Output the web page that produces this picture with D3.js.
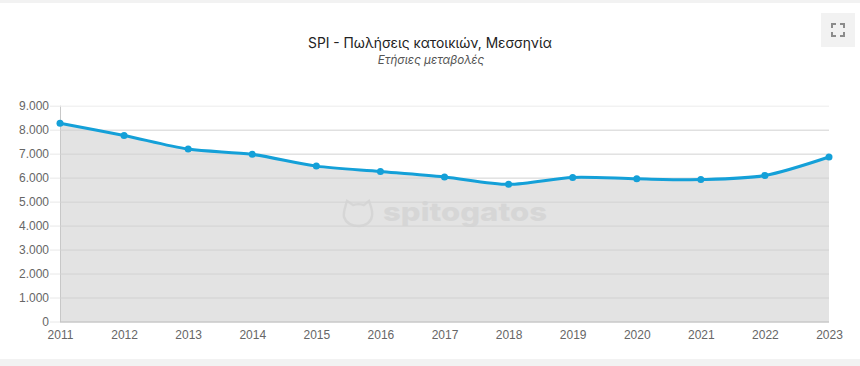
<!DOCTYPE html>
<html>
<head>
<meta charset="utf-8">
<script src="https://cdn.jsdelivr.net/npm/d3@7/dist/d3.min.js"></script>
<style>
html, body { margin: 0; padding: 0; background: #fff; }
svg { display: block; }
</style>
</head>
<body>
<svg id="chart" width="860" height="366"></svg>
<script>
var years = [2011, 2012, 2013, 2014, 2015, 2016, 2017, 2018, 2019, 2020, 2021, 2022, 2023];
var values = [8270, 7760, 7190, 6970, 6480, 6260, 6030, 5720, 6010, 5950, 5920, 6090, 6860];
var yTicks = [0, 1000, 2000, 3000, 4000, 5000, 6000, 7000, 8000, 9000];
var titleText = "SPI - Πωλήσεις κατοικιών, Μεσσηνία";
var subtitleText = "Ετήσιες μεταβολές";

var svg = d3.select("#chart");
var margin = {top: 105.7, right: 31, bottom: 44.5, left: 60};
var width = 860 - margin.left - margin.right,
    height = 366 - margin.top - margin.bottom;

var x = d3.scalePoint().domain(years).range([0, width]);
var y = d3.scaleLinear().domain([0, 9000]).range([height, 0]);

// page bands above and below the card
svg.append("rect").attr("width", 860).attr("height", 3).attr("fill", "#f2f2f2");
svg.append("rect").attr("y", 359).attr("width", 860).attr("height", 7).attr("fill", "#f2f2f2");

svg.append("text")
    .attr("x", 430).attr("y", 48)
    .attr("text-anchor", "middle")
    .attr("font-family", "Inter, 'Noto Sans', sans-serif")
    .attr("font-size", 13.8)
    .attr("fill", "#222")
    .text(titleText);

svg.append("text")
    .attr("x", 431).attr("y", 64)
    .attr("text-anchor", "middle")
    .attr("font-family", "Inter, 'Noto Sans', sans-serif")
    .attr("font-style", "italic")
    .attr("font-size", 11.7)
    .attr("fill", "#555")
    .text(subtitleText);

// fullscreen button
var btn = svg.append("g").attr("transform", "translate(821,13)");
btn.append("rect").attr("width", 34).attr("height", 34).attr("fill", "#f2f2f2");
btn.append("path")
    .attr("d", "M11 15V11H15M19 11H23V15M23 19V23H19M15 23H11V19")
    .attr("fill", "none")
    .attr("stroke", "#8c8c8c")
    .attr("stroke-width", 2);

var container = svg.append("g")
    .attr("transform", "translate(" + margin.left + "," + margin.top + ")");

var curve = d3.curveCardinal.tension(0.15);

var area = d3.area()
    .x(function(d, i) { return x(years[i]); })
    .y0(height)
    .y1(function(d) { return y(d); })
    .curve(curve);

var line = d3.line()
    .x(function(d, i) { return x(years[i]); })
    .y(function(d) { return y(d); })
    .curve(curve);

container.append("path")
    .datum(values)
    .attr("d", area)
    .attr("fill", "#e3e3e3");

// grid sits over the fill
var axisY = d3.axisLeft(y)
    .tickValues(yTicks)
    .tickSize(10)
    .tickPadding(0)
    .tickFormat(function(d) { return d3.format(",")(d).replace(",", "."); });

var gy = container.append("g").attr("class", "axis axis-y").call(axisY);
gy.select(".domain").attr("d", "M0.5," + height + "V0").attr("stroke", "#c8c8c8");
gy.selectAll(".tick line").attr("stroke", "#e8e8e8");
gy.selectAll(".tick").append("line")
    .attr("x2", width)
    .attr("stroke", function(d) { return d == 0 ? "#adadad" : (y(d) > y(values[0]) ? "#d2d2d2" : "#ececec"); });
gy.selectAll(".tick text")
    .attr("x", -11)
    .attr("font-family", "'Liberation Sans', Arial, sans-serif")
    .attr("font-size", 12)
    .attr("fill", "#666");

var axisX = d3.axisBottom(x).tickSize(0).tickPadding(9);
var gx = container.append("g")
    .attr("class", "axis axis-x")
    .attr("transform", "translate(0," + height + ")")
    .call(axisX);
gx.select(".domain").remove();
gx.selectAll(".tick text")
    .attr("font-family", "'Liberation Sans', Arial, sans-serif")
    .attr("font-size", 12)
    .attr("fill", "#666");

// watermark
var mark = svg.append("g").attr("opacity", 0.8);
mark.append("path")
    .attr("d", "M347 201C345 208 343 212 344 217C346 223 352 226 359 226C366 226 371 222 372 216C373 211 371 207 369 201L364 205C361 204 356 204 353 205Z")
    .attr("fill", "none")
    .attr("stroke", "#d4d4d4")
    .attr("stroke-width", 2.4);
mark.append("text")
    .attr("x", 383).attr("y", 221)
    .attr("font-family", "Inter, Lato, sans-serif")
    .attr("font-weight", 800)
    .attr("font-size", 26)
    .attr("textLength", 164)
    .attr("lengthAdjust", "spacingAndGlyphs")
    .attr("fill", "#d4d4d4")
    .text("spitogatos");

container.append("path")
    .datum(values)
    .attr("d", line)
    .attr("fill", "none")
    .attr("stroke", "#14a0d8")
    .attr("stroke-width", 3);

container.selectAll("circle.pt")
    .data(values)
    .enter()
    .append("circle")
    .attr("class", "pt")
    .attr("cx", function(d, i) { return x(years[i]); })
    .attr("cy", function(d) { return y(d); })
    .attr("r", 3.5)
    .attr("fill", "#14a0d8");
</script>
</body>
</html>
